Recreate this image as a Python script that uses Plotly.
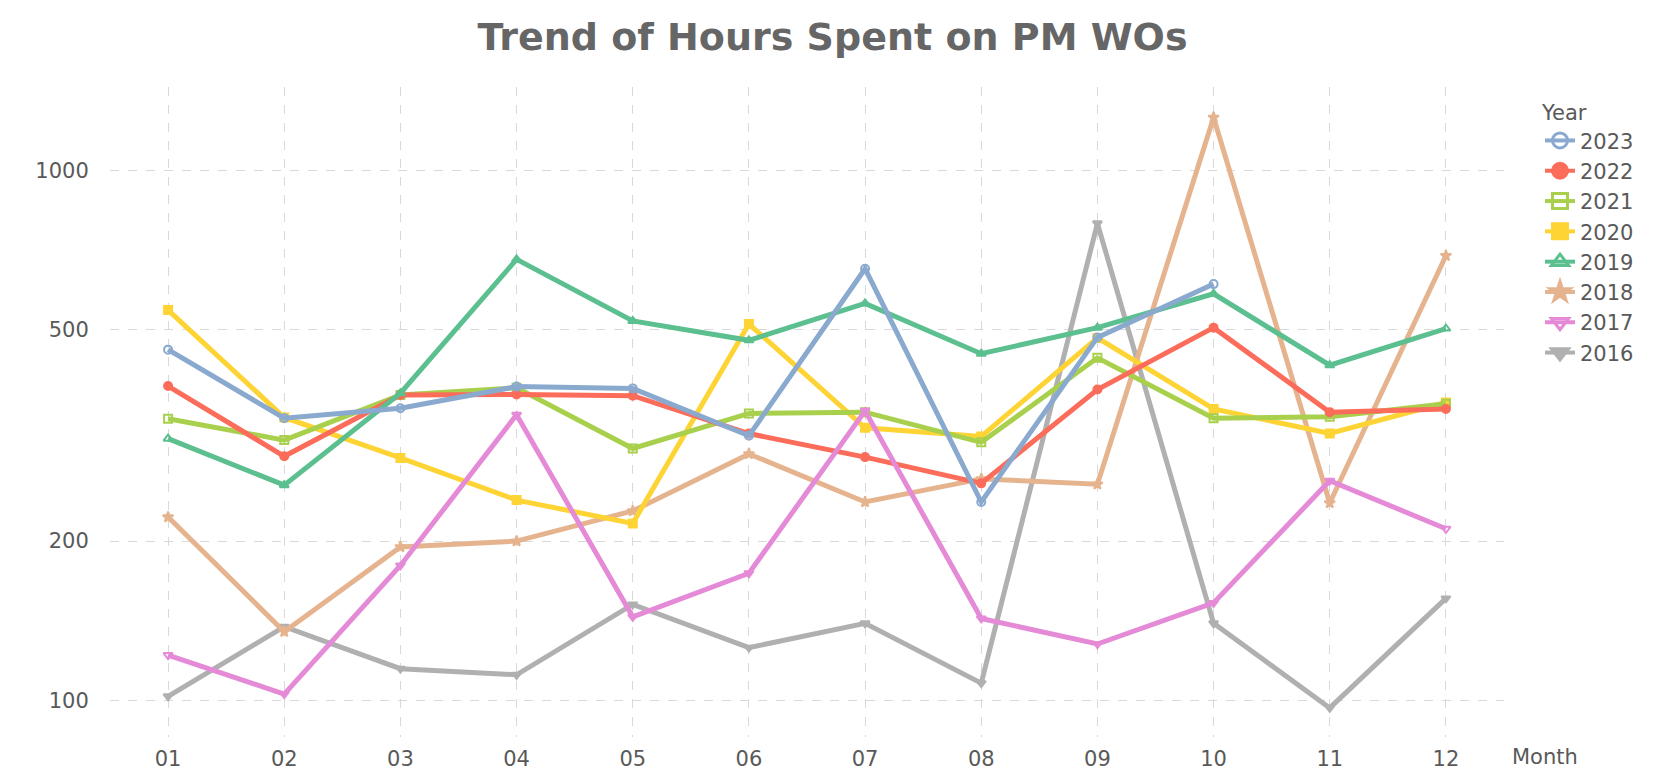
import plotly.graph_objects as go

months = ["01", "02", "03", "04", "05", "06", "07", "08", "09", "10", "11", "12"]
years = ["2023", "2022", "2021", "2020", "2019", "2018", "2017", "2016"]

hours_2023 = [459, 341, 356, 391, 388, 316, 652, 237, 484, 610, None, None]
hours_2022 = [392, 289, 377, 378, 376, 319, 288, 257, 386, 505, 350, 355]
hours_2021 = [340, 310, 377, 389, 299, 348, 350, 307, 443, 341, 343, 363]
hours_2020 = [545, 342, 287, 239, 216, 513, 327, 315, 483, 355, 319, 365]
hours_2019 = [312, 255, 380, 679, 520, 478, 561, 451, 505, 585, 429, 503]
hours_2018 = [222, 135, 195, 200, 228, 292, 237, 262, 256, 1257, 236, 690]
hours_2017 = [122, 103, 180, 346, 144, 174, 352, 143, 128, 153, 260, 211]
hours_2016 = [102, 138, 115, 112, 152, 126, 140, 108, 794, 140, 97, 156]

series = {
    "2023": hours_2023, "2022": hours_2022, "2021": hours_2021, "2020": hours_2020,
    "2019": hours_2019, "2018": hours_2018, "2017": hours_2017, "2016": hours_2016,
}
colors = {
    "2023": "#8aa9cf", "2022": "#fb6c5a", "2021": "#a8d04d", "2020": "#fed435",
    "2019": "#5cbf8f", "2018": "#e5b48f", "2017": "#e48ad6", "2016": "#b0b0b0",
}
symbols = {
    "2023": "circle-open", "2022": "circle", "2021": "square-open", "2020": "square",
    "2019": "triangle-up-open", "2018": "star", "2017": "triangle-down-open", "2016": "triangle-down",
}

fig = go.Figure()

draw_order = ["2016", "2018", "2020", "2021", "2022", "2019", "2017", "2023"]
for y in draw_order:
    fig.add_trace(go.Scatter(
        x=months, y=series[y], mode="lines+markers", name=y, legendgroup=y,
        showlegend=False, connectgaps=False,
        line=dict(color=colors[y], width=5),
        marker=dict(symbol=symbols[y], size=8, color=colors[y], line=dict(color=colors[y], width=2)),
    ))

for y in years:
    fig.add_trace(go.Scatter(
        x=[None], y=[None], mode="lines+markers", name=y, legendgroup=y,
        line=dict(color=colors[y], width=4),
        marker=dict(symbol=symbols[y], size=15, color=colors[y], line=dict(color=colors[y], width=3)),
    ))

# The page body adds an 8px offset; lay out in screen coordinates and shift.
OFF = 8
W, H = 1665 - OFF, 771 - OFF
L = 110 - OFF
T = 87 - OFF
R = 1665 - 1504
B = 771 - 737
ph = H - T - B
pw = W - L - R


def px(X):
    return (X - OFF - L) / pw


def py(Y):
    return (H - B - (Y - OFF)) / ph


fig.update_layout(
    width=W, height=H,
    margin=dict(l=L, r=R, t=T, b=B, autoexpand=False),
    paper_bgcolor="white", plot_bgcolor="white",
    font=dict(family="DejaVu Sans", color="#595959", size=21),
    title=dict(text="Trend of Hours Spent on PM WOs", xref="container",
               x=(1665 / 2 - OFF) / W, xanchor="center",
               y=1 - (37 - OFF) / H, yanchor="middle",
               font=dict(family="DejaVu Sans", size=38, color="#666666", weight="bold")),
    legend=dict(
        title=dict(text="Year", font=dict(size=21, color="#595959")),
        x=px(1540), xanchor="left", y=py(93), yanchor="top",
        font=dict(size=21, color="#595959"), tracegroupgap=0,
        bgcolor="rgba(0,0,0,0)",
    ),
    showlegend=True,
)

fig.update_xaxes(
    type="category", categoryorder="array", categoryarray=months,
    range=[-0.5, 11.5],
    showgrid=True, gridcolor="#d9d9d9", griddash="dash", gridwidth=1,
    showline=False, zeroline=False,
    ticks="outside", ticklen=3, tickcolor="rgba(0,0,0,0)",
    tickfont=dict(size=21, color="#595959"),
)
fig.update_yaxes(
    type="log", range=[1.932, 3.1567],
    tickvals=[100, 200, 500, 1000], ticktext=["100", "200", "500", "1000"],
    showgrid=True, gridcolor="#d9d9d9", griddash="dash", gridwidth=1,
    showline=False, zeroline=False,
    ticks="outside", ticklen=16, tickcolor="rgba(0,0,0,0)",
    tickfont=dict(size=21, color="#595959"),
)

fig.add_annotation(
    text="Month", xref="paper", yref="paper",
    x=px(1510), xanchor="left", y=py(757), yanchor="middle",
    showarrow=False, font=dict(size=21, color="#595959"),
)

fig.write_html("out.html")
